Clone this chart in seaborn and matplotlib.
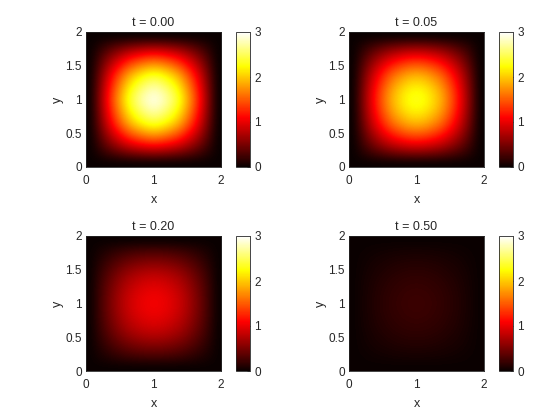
import numpy as np
import seaborn as sns
import matplotlib
matplotlib.use("Agg")
import matplotlib.pyplot as plt

# centerline values u(x, y=1), x = 0, 0.125, ..., 2
x_pts = [0, 0.125, 0.25, 0.375, 0.5, 0.625, 0.75, 0.875, 1.0,
         1.125, 1.25, 1.375, 1.5, 1.625, 1.75, 1.875, 2.0]
u_t000 = [0, 0.45, 1.0, 1.5, 1.95, 2.35, 2.62, 2.82, 2.92,
          2.82, 2.62, 2.35, 1.95, 1.5, 1.0, 0.45, 0]
u_t005 = [0, 0.4, 0.85, 1.25, 1.6, 1.9, 2.1, 2.25, 2.3,
          2.25, 2.1, 1.9, 1.6, 1.25, 0.85, 0.4, 0]
u_t020 = [0, 0.2, 0.4, 0.58, 0.75, 0.88, 0.97, 1.03, 1.05,
          1.03, 0.97, 0.88, 0.75, 0.58, 0.4, 0.2, 0]
u_t050 = [0, 0.04, 0.08, 0.12, 0.15, 0.18, 0.2, 0.215, 0.22,
          0.215, 0.2, 0.18, 0.15, 0.12, 0.08, 0.04, 0]
titles = ["t = 0.00", "t = 0.05", "t = 0.20", "t = 0.50"]
profiles = [u_t000, u_t005, u_t020, u_t050]

sns.set_theme(style="white")
plt.rcParams["font.family"] = ["Liberation Sans", "DejaVu Sans"]
plt.rcParams.update({
    "font.size": 8,
    "xtick.direction": "in",
    "ytick.direction": "in",
    "xtick.color": "#262626",
    "ytick.color": "#262626",
    "axes.edgecolor": "#262626",
    "axes.linewidth": 0.6,
    "xtick.major.size": 2.5,
    "ytick.major.size": 2.5,
    "xtick.major.width": 0.6,
    "ytick.major.width": 0.6,
})

fig = plt.figure(figsize=(5.6, 4.2), dpi=100)
W, H = 560, 420
ax_pos = [(86, 32), (349, 32), (86, 236), (349, 236)]
cb_pos = [(236, 32), (499, 32), (236, 236), (499, 236)]

for i in range(4):
    p = np.array(profiles[i])
    field = np.outer(p, p) / p.max()
    l, t = ax_pos[i]
    ax = fig.add_axes([l / W, 1 - (t + 135) / H, 135 / W, 135 / H])
    im = ax.imshow(field, cmap="hot", vmin=0, vmax=3, origin="lower",
                   extent=[0, 2, 0, 2], interpolation="bicubic", aspect="auto")
    ax.set_xticks([0, 1, 2])
    ax.set_yticks([0, 0.5, 1, 1.5, 2])
    ax.set_yticklabels(["0", "0.5", "1", "1.5", "2"])
    ax.tick_params(axis="x", labelsize=8.5, pad=5.5)
    ax.tick_params(axis="y", labelsize=8.5, pad=3)
    ax.set_xlabel("x", fontsize=9, color="#262626", labelpad=5)
    ax.set_ylabel("y", fontsize=9, color="#262626", labelpad=1)
    ax.set_title(titles[i], fontsize=9, pad=4)
    cl, ct = cb_pos[i]
    cax = fig.add_axes([cl / W, 1 - (ct + 135) / H, 14 / W, 135 / H])
    cb = fig.colorbar(im, cax=cax, ticks=[0, 1, 2, 3])
    cb.ax.tick_params(labelsize=8.5, direction="in", length=2.5, pad=3)
    cb.outline.set_linewidth(0.6)

fig.savefig("out.png", dpi=100)
